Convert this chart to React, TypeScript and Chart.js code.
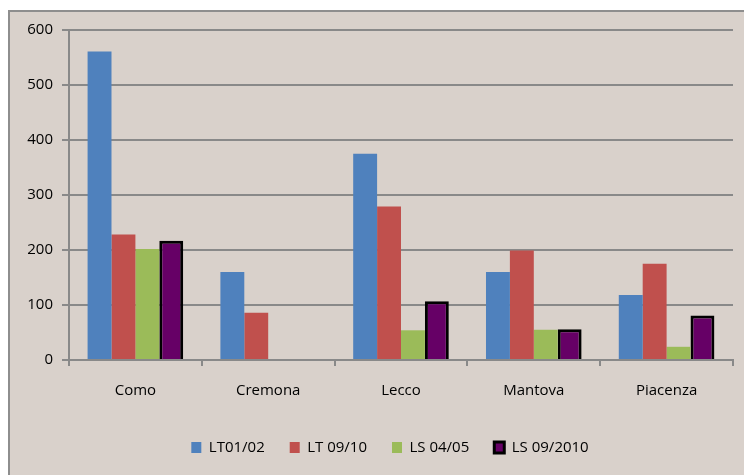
import React, { useEffect, useRef } from "react";
import { Chart, registerables } from "chart.js";

Chart.register(...registerables);

const categories = ["Como", "Cremona", "Lecco", "Mantova", "Piacenza"];
const seriesNames = ["LT01/02", "LT 09/10", "LS 04/05", "LS 09/2010"];
const lt0102 = [561, 160, 375, 160, 118];
const lt0910 = [228, 86, 279, 199, 175];
const ls0405 = [202, null, 54, 55, 24];
const ls092010 = [217, null, 107, 56, 81];
const yTicks = [0, 100, 200, 300, 400, 500, 600];

const BG = "#D9D1CB";
const GRID = "#898989";
const FONT = "'Open Sans', sans-serif";

const bgPlugin = {
  id: "bgBox",
  beforeDraw(chart: any) {
    const ctx = chart.ctx;
    ctx.save();
    ctx.fillStyle = "#ffffff";
    ctx.fillRect(0, 0, chart.width, chart.height);
    ctx.fillStyle = BG;
    ctx.fillRect(8, 10, chart.width, chart.height);
    ctx.strokeStyle = "#8E8E8E";
    ctx.lineWidth = 2;
    ctx.beginPath();
    ctx.moveTo(9, chart.height + 2);
    ctx.lineTo(9, 11);
    ctx.lineTo(chart.width + 2, 11);
    ctx.stroke();
    ctx.restore();
  },
};

const legendShift = {
  id: "legendShift",
  afterLayout(chart: any) {
    if (chart.legend) {
      chart.legend.left = 47;
    }
  },
};

export default function App() {
  const ref = useRef<HTMLCanvasElement>(null);
  useEffect(() => {
    if (!ref.current) return;
    const chart = new Chart(ref.current, {
      type: "bar",
      data: {
        labels: categories,
        datasets: [
          { label: seriesNames[0], data: lt0102, backgroundColor: "#4F81BD", borderWidth: 0 },
          { label: seriesNames[1], data: lt0910, backgroundColor: "#C0504D", borderWidth: 0 },
          { label: seriesNames[2], data: ls0405, backgroundColor: "#9BBB59", borderWidth: 0 },
          { label: seriesNames[3], data: ls092010, backgroundColor: "#660066", borderColor: "#000000", borderWidth: 3 },
        ],
      },
      options: {
        animation: false,
        responsive: false,
        devicePixelRatio: 1,
        layout: { padding: { left: 0, right: 11, top: 30, bottom: 10 } },
        datasets: { bar: { categoryPercentage: 0.72, barPercentage: 1 } } as any,
        scales: {
          x: {
            offset: true,
            grid: { offset: true, drawOnChartArea: false, drawTicks: true, tickLength: 6, color: GRID, lineWidth: 2 },
            border: { color: GRID, width: 2 },
            ticks: { color: "#000", font: { family: FONT, size: 15 }, padding: 16 },
            afterFit(scale: any) { scale.height = 55; },
          },
          y: {
            min: 0,
            max: 600,
            afterBuildTicks(scale: any) { scale.ticks = yTicks.map((v) => ({ value: v })); },
            grid: { color: GRID, lineWidth: 2, tickLength: 7, drawTicks: true },
            border: { color: GRID, width: 2 },
            ticks: { color: "#000", font: { family: FONT, size: 15 }, padding: 9 },
            afterFit(scale: any) { scale.width = 69; },
          },
        },
        plugins: {
          tooltip: { enabled: false },
          legend: {
            position: "bottom",
            labels: {
              color: "#000",
              font: { family: FONT, size: 15 },
              boxWidth: 10,
              boxHeight: 11,
              padding: 25,
            },
          },
        },
      },
      plugins: [bgPlugin, legendShift],
    } as any);
    return () => chart.destroy();
  }, []);
  return (
    <div style={{ position: "absolute", left: 0, top: 0, width: 744, height: 475 }}>
      <canvas ref={ref} width={744} height={475} style={{ width: 744, height: 475, display: "block" }} />
    </div>
  );
}
